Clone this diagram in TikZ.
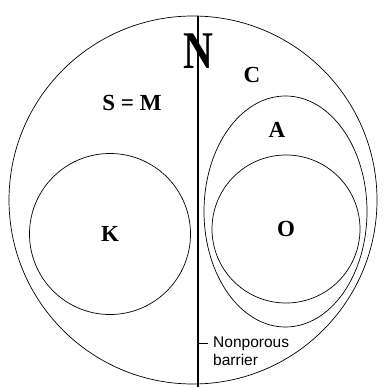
\documentclass[tikz,border=0pt]{standalone}
\usepackage{fontspec}
\setmainfont{Liberation Serif}
\setsansfont{Liberation Sans}
\usetikzlibrary{positioning,shapes.geometric}

\begin{document}
\begin{tikzpicture}[x=1pt, y=-1pt,
      ring/.style={circle, draw, line width=0.7pt, inner sep=0pt},
      oval/.style={ellipse, draw, line width=0.7pt, inner sep=0pt},
      tag/.style={font=\fontsize{23}{25}\selectfont\bfseries, inner sep=0pt},
      note/.style={font=\sffamily\fontsize{15.5}{18}\selectfont, align=left, inner sep=0pt},
      wall/.style={line width=1.8pt}]
    \useasboundingbox (0,0) rectangle (385,387);
    \node[ring, minimum size=368pt] (world) at (193,200) {};
    \node[ring, minimum size=161pt, tag] (K) at (110,234) {K};
    \node[oval, minimum width=163pt, minimum height=231pt] (A) at (285.5,211.5) {};
    \node[ring, minimum size=148pt, tag] (O) at (286,229) {O};
    \node[tag] (alabel) at (277,130) {A};
    \node[tag] (clabel) at (252,75) {C};
    \node[tag] (sm) at (132,103) {S = M};
    \node[font=\fontsize{53}{53}\selectfont\bfseries, inner sep=0pt] (north) at (198,51)
      {\scalebox{0.78}[1]{N}};
    \coordinate (top) at (198,16);
    \coordinate (bottom) at (198,387);
    \coordinate (tick) at (198,343);
    \draw[wall] (top) -- (bottom);
    \node[note, anchor=north west] (barrier) at (213,337) {Nonporous\\barrier};
    \draw[line width=0.7pt] (tick) -- ([xshift=-5pt]barrier.west |- tick);
  \end{tikzpicture}
\end{document}
